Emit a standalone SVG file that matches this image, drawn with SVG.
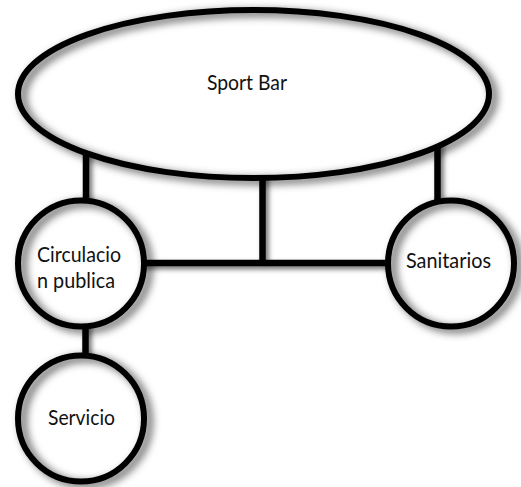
<svg xmlns="http://www.w3.org/2000/svg" width="521" height="487" viewBox="0 0 521 487">
  <defs>
    <filter id="shadow" x="-20%" y="-20%" width="140%" height="140%">
      <feDropShadow dx="3" dy="3" stdDeviation="2.5" flood-color="#000" flood-opacity="0.55"/>
    </filter>
    <filter id="ringShadow" x="-20%" y="-20%" width="140%" height="140%">
      <feDropShadow dx="5" dy="3" stdDeviation="4" flood-color="#000" flood-opacity="0.7"/>
    </filter>
  </defs>
  <style>
    .conn { stroke: #000; stroke-width: 6.5; fill: none; }
    .fill { fill: #fff; stroke: none; }
    .ring { fill: none; stroke: #000; stroke-width: 6; }
    .lbl { font-family: Lato, "Open Sans", "Liberation Sans", sans-serif; font-size: 21px; fill: #111; }
  </style>
  <rect width="521" height="487" fill="#fff"/>
  <g id="connectors" filter="url(#shadow)">
    <line class="conn" x1="86" y1="120" x2="86" y2="210"/>
    <line class="conn" x1="262.5" y1="120" x2="262.5" y2="266"/>
    <line class="conn" x1="437.5" y1="120" x2="437.5" y2="210"/>
    <line class="conn" x1="130" y1="263" x2="400" y2="263"/>
    <line class="conn" x1="85.5" y1="300" x2="85.5" y2="380"/>
  </g>
  <g id="sport-bar">
    <ellipse class="fill" cx="253.5" cy="94" rx="235.5" ry="84"/>
    <ellipse class="ring" cx="253.5" cy="94" rx="235.5" ry="84" filter="url(#ringShadow)"/>
    <text class="lbl" x="207" y="90" textLength="80" lengthAdjust="spacingAndGlyphs">Sport Bar</text>
  </g>
  <g id="circulacion-publica">
    <circle class="fill" cx="81" cy="263.5" r="63"/>
    <circle class="ring" cx="81" cy="263.5" r="63" filter="url(#ringShadow)"/>
    <text class="lbl" x="37" y="262" textLength="84" lengthAdjust="spacingAndGlyphs">Circulacio</text>
    <text class="lbl" x="37" y="288" textLength="78" lengthAdjust="spacingAndGlyphs">n publica</text>
  </g>
  <g id="sanitarios">
    <circle class="fill" cx="451" cy="263.5" r="63"/>
    <circle class="ring" cx="451" cy="263.5" r="63" filter="url(#ringShadow)"/>
    <text class="lbl" x="406" y="268" textLength="85" lengthAdjust="spacingAndGlyphs">Sanitarios</text>
  </g>
  <g id="servicio">
    <circle class="fill" cx="81" cy="418.5" r="63"/>
    <circle class="ring" cx="81" cy="418.5" r="63" filter="url(#ringShadow)"/>
    <text class="lbl" x="48" y="425" textLength="67" lengthAdjust="spacingAndGlyphs">Servicio</text>
  </g>
</svg>
